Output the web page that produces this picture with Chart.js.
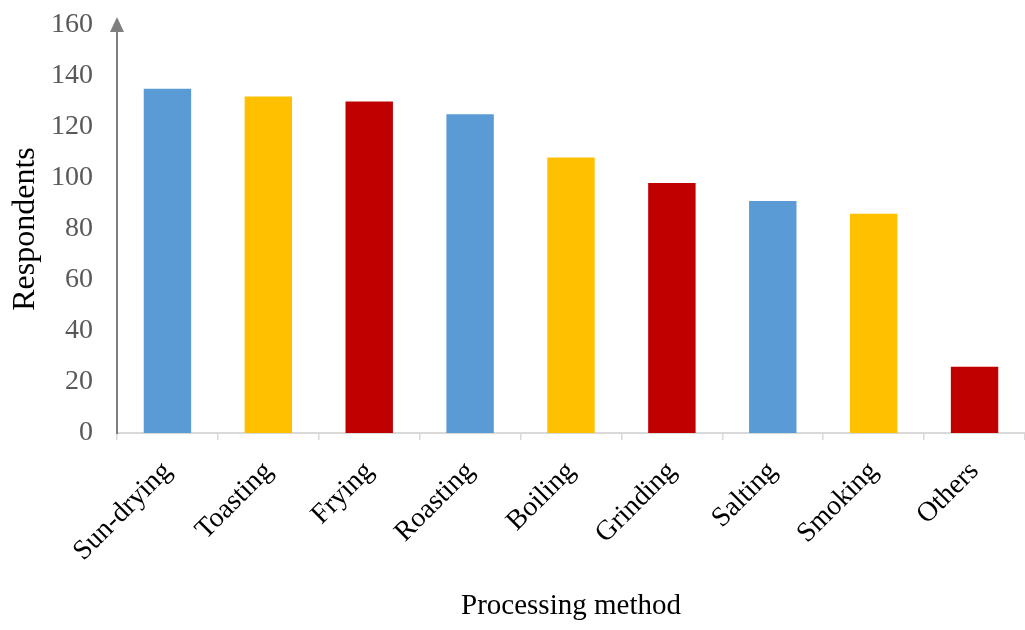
<!DOCTYPE html>
<html>
<head>
<meta charset="utf-8">
<script src="https://cdn.jsdelivr.net/npm/chart.js@4/dist/chart.umd.min.js"></script>
<style>
  html, body { margin: 0; padding: 0; background: #ffffff; }
  #wrap { width: 1025px; height: 630px; position: relative; }
</style>
</head>
<body>
<div id="wrap"><canvas id="chart"></canvas></div>
<script>
// Processing methods and number of respondents using each
const methods = ['Sun-drying', 'Toasting', 'Frying', 'Roasting', 'Boiling', 'Grinding', 'Salting', 'Smoking', 'Others'];
const respondents = [135, 132, 130, 125, 108, 98, 91, 86, 26];
const barColors = ['#5B9BD5', '#FFC000', '#C00000', '#5B9BD5', '#FFC000', '#C00000', '#5B9BD5', '#FFC000', '#C00000'];
const yMax = 160;
const yStep = 20;

const serif = '"Liberation Serif", "Times New Roman", serif';

// Arrow head at the top of the value axis
const axisArrow = {
  id: 'axisArrow',
  afterDraw(chart) {
    const ctx = chart.ctx;
    const x = chart.scales.y.right;
    const top = chart.chartArea.top;
    ctx.save();
    ctx.fillStyle = '#7f7f7f';
    ctx.beginPath();
    ctx.moveTo(x, top - 8);
    ctx.lineTo(x - 7, top + 7);
    ctx.lineTo(x + 7, top + 7);
    ctx.closePath();
    ctx.fill();
    ctx.restore();
  }
};

new Chart(document.getElementById('chart'), {
  type: 'bar',
  data: {
    labels: methods,
    datasets: [{
      data: respondents,
      backgroundColor: barColors,
      borderWidth: 0,
      categoryPercentage: 1,
      barPercentage: 0.47
    }]
  },
  options: {
    responsive: true,
    maintainAspectRatio: false,
    animation: false,
    layout: { padding: { top: 25, right: 0, left: 6, bottom: 6 } },
    plugins: {
      legend: { display: false },
      tooltip: { enabled: false }
    },
    scales: {
      x: {
        grid: {
          offset: true,
          drawOnChartArea: false,
          drawTicks: true,
          tickLength: 7,
          color: '#d9d9d9',
          lineWidth: 1.5
        },
        border: { display: true, color: '#d9d9d9', width: 2 },
        ticks: {
          minRotation: 45,
          maxRotation: 45,
          color: '#000000',
          padding: 15,
          font: { family: serif, size: 28 }
        },
        title: {
          display: true,
          text: 'Processing method',
          color: '#000000',
          padding: { top: 0, bottom: 0 },
          font: { family: serif, size: 29 }
        },
        afterFit(scale) {
          scale.height = 191;
          scale.paddingTop = 0;
          scale.paddingBottom = 0;
        }
      },
      y: {
        min: 0,
        max: yMax,
        ticks: {
          stepSize: yStep,
          color: '#595959',
          padding: 24,
          font: { family: serif, size: 28 }
        },
        grid: { display: false, drawTicks: false },
        border: { display: true, color: '#7f7f7f', width: 2 },
        title: {
          display: true,
          text: 'Respondents',
          color: '#000000',
          padding: { top: 0, bottom: 6 },
          font: { family: serif, size: 32 }
        },
        afterFit(scale) {
          scale.width = 111;
          scale.paddingTop = 0;
          scale.paddingBottom = 0;
        }
      }
    }
  },
  plugins: [axisArrow]
});
</script>
</body>
</html>
